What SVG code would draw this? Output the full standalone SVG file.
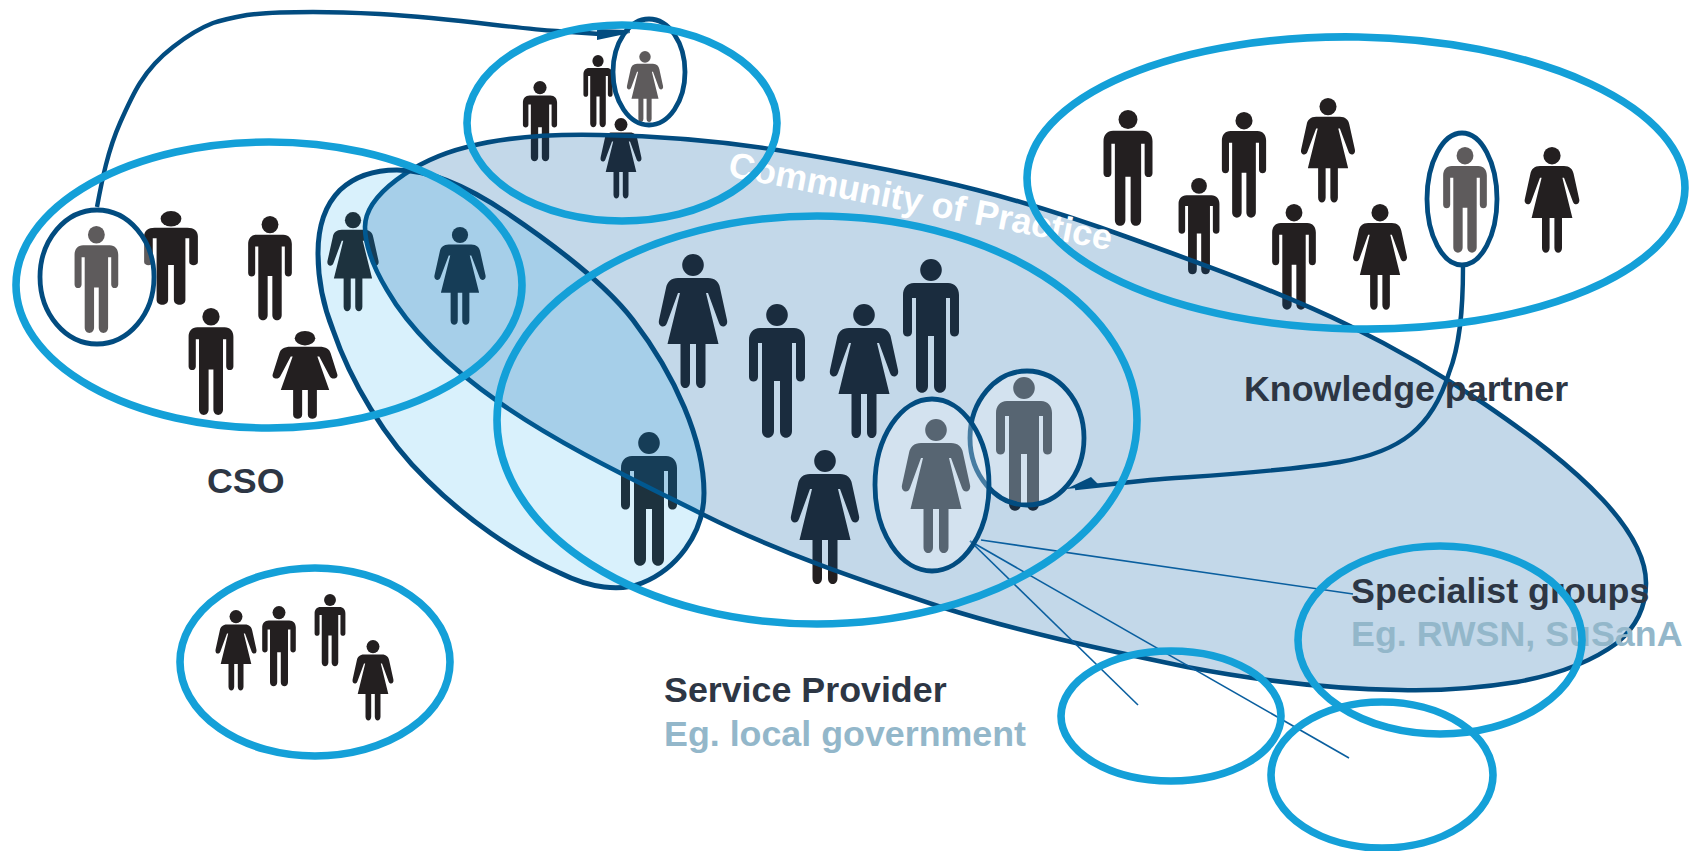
<svg xmlns="http://www.w3.org/2000/svg" width="1693" height="851" viewBox="0 0 1693 851">
<style>
.ring{fill:none;stroke:#14a0d8;stroke-width:7.6}
.oval{fill:#fff;fill-opacity:.27;stroke:#024c80;stroke-width:4.8}
.p{fill:#231f20}
.conn{fill:none;stroke:#024c80;stroke-width:4.4}
.thin{fill:none;stroke:#0a5f9f;stroke-width:1.6}
.t{font-family:"Liberation Sans",Arial,sans-serif;font-weight:700;font-size:35.8px}
.dark{fill:#2d3644}
.pale{fill:#93b7ca}
</style>
<defs>
<g id="man"><ellipse cx="0" cy="11" rx="10.8" ry="11"/><path d="M-17 24H17C24 24 28 29 28 36V73C28 79 19 79 19 73V39H15V127C15 136 3 136 3 127V77H-3V127C-3 136-15 136-15 127V39H-19V73C-19 79-28 79-28 73V36C-28 29-24 24-17 24Z"/></g>
<g id="woman"><ellipse cx="0" cy="11" rx="10.8" ry="11"/><path d="M-15 24H15C22 24 26 28 27 34L34 66C35.5 73 28 75 26 69L15 39H13L25.5 90H12.5V128C12.5 136 3 136 3 128V90H-3V128C-3 136-12.5 136-12.5 128V90H-25.5L-13 39H-15L-26 69C-28 75-35.5 73-34 66L-27 34C-26 28-22 24-15 24Z"/></g>
</defs>
<rect width="1693" height="851" fill="#fff"/>

<g id="people-cso" class="p">
<use href="#man" transform="translate(96.4,226) scale(.78,.8)"/>
<use href="#man" transform="translate(171,211) scale(.96,.7)"/>
<use href="#man" transform="translate(270,216) scale(.78,.78)"/>
<use href="#man" transform="translate(211,308) scale(.8,.8)"/>
<use href="#woman" transform="translate(305,331) scale(.95,.655)"/>
<use href="#woman" transform="translate(353,212) scale(.75,.74)"/>
<use href="#woman" transform="translate(460,227) scale(.75,.73)"/>
</g>
<g id="people-top" class="p">
<use href="#man" transform="translate(540,81) scale(.61,.6)"/>
<use href="#man" transform="translate(598,55) scale(.52,.54)"/>
<use href="#woman" transform="translate(645,51) scale(.53,.53)"/>
<use href="#woman" transform="translate(621,118) scale(.6,.6)"/>
</g>
<g id="people-service-provider" class="p">
<use href="#woman" transform="translate(693,254)"/>
<use href="#man" transform="translate(777,304)"/>
<use href="#woman" transform="translate(864,304)"/>
<use href="#man" transform="translate(931,259)"/>
<use href="#man" transform="translate(1024,377)"/>
<use href="#woman" transform="translate(936,419)"/>
<use href="#woman" transform="translate(825,450)"/>
<use href="#man" transform="translate(649,432)"/>
</g>
<g id="people-knowledge-partner" class="p">
<use href="#man" transform="translate(1128,110) scale(.875,.866)"/>
<use href="#man" transform="translate(1244,112) scale(.79,.79)"/>
<use href="#woman" transform="translate(1328,98) scale(.79,.78)"/>
<use href="#man" transform="translate(1199,178) scale(.73,.72)"/>
<use href="#man" transform="translate(1294,204) scale(.78,.79)"/>
<use href="#woman" transform="translate(1380,204) scale(.79,.79)"/>
<use href="#man" transform="translate(1465,147) scale(.78,.79)"/>
<use href="#woman" transform="translate(1552,147) scale(.8,.79)"/>
</g>
<g id="people-lower-left" class="p">
<use href="#woman" transform="translate(236,610) scale(.6,.6)"/>
<use href="#man" transform="translate(279,606) scale(.6,.6)"/>
<use href="#man" transform="translate(330,594) scale(.55,.54)"/>
<use href="#woman" transform="translate(373,640) scale(.6,.6)"/>
</g>

<g id="community-of-practice">
<path fill="#005ba1" fill-opacity=".235" stroke="#024c80" stroke-width="4.6" d="M365 227C365 195 415 160 467 147C505 137 555 134 600 135C660 136 720 141 777 150C845 161 915 174 977 190C1027 203 1080 220 1127 237C1205 265 1280 292 1350 326C1395 348 1440 374 1483 403C1530 435 1570 465 1603 500C1628 527 1646 555 1646 583C1646 608 1635 628 1617 643C1590 663 1555 675 1517 682C1480 688 1440 691 1400 690C1330 689 1255 680 1187 667C1105 650 1020 632 941 607C860 580 780 553 704 515C630 478 560 445 500 403C450 368 410 330 387 290C372 265 365 245 365 227Z"/>
</g>
<g id="overlap-group">
<path fill="#00a0eb" fill-opacity=".15" stroke="#024c80" stroke-width="5" d="M318 253C318 225 325 205 340 190C355 176 375 170 397 170C430 170 470 188 507 213C550 242 603 281 633 320C675 375 704 440 704 493C704 535 675 570 642 583C620 592 590 588 560 573C515 553 465 518 427 480C385 440 350 380 333 330C323 305 318 280 318 253Z"/>
</g>

<g id="labels">
<text class="t" fill="#fff" transform="translate(727,176) rotate(11)">Community of Practice</text>
<text class="t dark" x="207" y="493">CSO</text>
<text class="t dark" x="1244" y="401">Knowledge partner</text>
<text class="t dark" x="1351" y="603">Specialist groups</text>
<text class="t pale" x="1351" y="646">Eg. RWSN, SuSanA</text>
<text class="t dark" x="664" y="702">Service Provider</text>
<text class="t pale" x="664" y="746">Eg. local government</text>
</g>

<g id="connectors">
<path class="conn" d="M97 207C102 180 108 150 120 123C128 105 133 94 140 83C150 67 160 57 173 47C187 36 200 28 213 23C225 19 236 17 247 15C270 12 290 12 313 12C340 12 360 13 380 14C460 19 510 28 556 31L600 34"/>
<path d="M597 29L630 30L630 33L597 40Z" fill="#024c80"/>
<path class="conn" d="M1463 267C1463 310 1460 345 1449 373C1432 428 1400 452 1340 462C1280 472 1200 476 1150 480L1075 488"/>
<path d="M1091 477L1066 489L1100 486Z" fill="#024c80"/>
<path class="thin" d="M981 540L1353 594"/>
<path class="thin" d="M970 541L1349 758"/>
<path class="thin" d="M970 541L1138 705"/>
</g>

<g id="person-ovals">
<ellipse id="oval-cso" class="oval" cx="97" cy="277" rx="57" ry="67"/>
<ellipse id="oval-top" class="oval" cx="649" cy="72" rx="36" ry="53"/>
<ellipse id="oval-kp" class="oval" cx="1462" cy="199" rx="35" ry="66"/>
<ellipse id="oval-man" class="oval" cx="1027" cy="438" rx="57" ry="67"/>
<ellipse id="oval-woman" class="oval" cx="932" cy="485" rx="57" ry="86"/>
</g>

<g id="rings">
<ellipse id="ring-cso" class="ring" cx="269" cy="285" rx="253" ry="143"/>
<ellipse id="ring-top" class="ring" cx="622" cy="123" rx="155" ry="98"/>
<ellipse id="ring-service-provider" class="ring" cx="817" cy="420" rx="320" ry="204"/>
<ellipse id="ring-knowledge-partner" class="ring" cx="1356" cy="183" rx="329" ry="146" transform="rotate(1 1356 183)"/>
<ellipse id="ring-lower-left" class="ring" cx="315" cy="662" rx="135" ry="94"/>
<ellipse id="ring-specialist" class="ring" cx="1440" cy="640" rx="142" ry="94"/>
<ellipse id="ring-lower-1" class="ring" cx="1171" cy="716" rx="110" ry="65"/>
<ellipse id="ring-lower-2" class="ring" cx="1382" cy="775" rx="111" ry="73"/>
</g>
</svg>
